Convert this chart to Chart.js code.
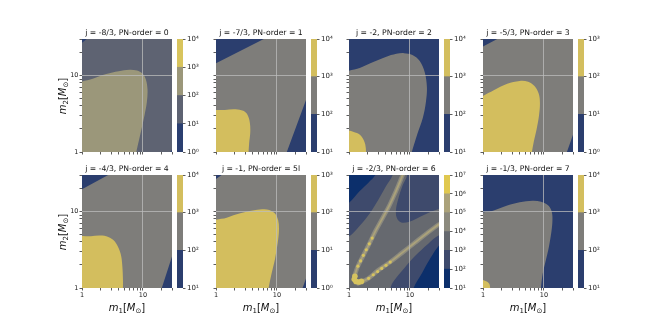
<!DOCTYPE html>
<html>
<head>
<meta charset="utf-8">
<script src="https://cdn.jsdelivr.net/npm/chart.js@4.4.1/dist/chart.umd.min.js"></script>
<style>
  body { margin: 0; background: #fff; }
  #fig { position: relative; width: 660px; height: 330px; overflow: hidden; font-family: "DejaVu Sans", sans-serif; color: #111; }
  #fig canvas { position: absolute; }
  .ttl { position: absolute; font-size: 7.7px; white-space: nowrap; transform: translate(-50%, -50%); }
  .lab { position: absolute; font-size: 10px; white-space: nowrap; transform: translate(-50%, -50%); }
  .lab.rot { transform: translate(-50%, -50%) rotate(-90deg); }
  .lab i { font-style: oblique; }
  .lab sub { font-size: 70%; vertical-align: -0.3em; line-height: 0; }
</style>
</head>
<body>
<div id="fig"></div>
<script>
// panel titles
const titles = ['j = -8/3, PN-order = 0', 'j = -7/3, PN-order = 1', 'j = -2, PN-order = 2', 'j = -5/3, PN-order = 3',
                'j = -4/3, PN-order = 4', 'j = -1, PN-order = 5l', 'j = -2/3, PN-order = 6', 'j = -1/3, PN-order = 7'];

// colorbar range (powers of ten)
const cbLow = [0, 1, 1, 0, 1, 0, 1, 1];
const cbHigh = [4, 4, 4, 3, 4, 3, 7, 4];

// mass axis ticks
const massTicks = [1, 2, 3, 4, 5, 6, 7, 8, 9, 10, 20, 30];
const massLabels = [1, 10];

// contour regions, [m1, m2] boundary points
const whole = [[0.5, 0.5], [0.5, 60], [60, 60], [60, 0.5]];

const p1Tan = [[0.7, 0.7], [0.85, 7.4], [1.5, 9.1], [2.5, 10.5], [4, 11.4], [6, 11.9], [8, 11.6], [9.8, 10.6], [11.2, 8.8], [11.9, 6.5], [11.6, 4.5], [10.6, 3], [9.2, 1.8], [8.1, 1.15], [7.6, 0.9]];
const p1BlueTL = [[0.8, 23.5], [0.8, 40], [1.94, 40]];
const p1BlueBR = [[27, 0.95], [35, 0.95], [35, 1.3]];

const p2BlueTL = [[0.8, 13.2], [0.8, 40], [12.4, 40]];
const p2BlueBR = [[13.1, 0.8], [40, 0.8], [40, 8.9]];
const p2Yellow = [[0.7, 0.7], [0.85, 3.3], [1.4, 3.55], [2.1, 3.62], [2.8, 3.45], [3.3, 3.05], [3.6, 2.4], [3.65, 1.8], [3.5, 1.3], [3.4, 0.9]];

const p3Gray = [[0.7, 0.7], [0.85, 10.3], [1.5, 12.5], [2.5, 15], [4, 17.5], [6, 19.2], [8, 19.6], [11, 18.6], [14.5, 15.5], [17.5, 11], [19, 7], [18.3, 4.5], [16.3, 2.8], [13.2, 1.7], [10.3, 0.9]];
const p3Yellow = [[0.7, 0.7], [0.85, 1.85], [1.35, 1.77], [1.65, 1.55], [1.85, 1.25], [1.92, 0.9]];

const p4Yellow = [[0.7, 0.7], [0.85, 4.6], [1.5, 6.4], [2.5, 7.8], [4, 8.5], [5.5, 8.3], [7, 7.3], [8.2, 5.8], [8.6, 4.4], [8.3, 3], [7.6, 2], [6.8, 1.35], [6.2, 0.9]];
const p4BlueTL = [[0.8, 21.8], [0.8, 40], [3.4, 40]];
const p4BlueBR = [[21.6, 0.8], [40, 0.8], [40, 3.2]];

const p5BlueTL = [[0.8, 17.7], [0.8, 40], [5.2, 40]];
const p5BlueBR = [[18.6, 0.8], [40, 0.8], [40, 5.2]];
const p5Yellow = [[0.7, 0.7], [0.85, 4.45], [1.4, 4.75], [2, 4.85], [2.7, 4.65], [3.4, 4.1], [4, 3.3], [4.4, 2.6], [4.6, 1.9], [4.7, 1.3], [4.7, 0.9]];

const p6BlueTL = [[0.8, 23.5], [0.8, 40], [2.07, 40]];
const p6BlueBR = [[23.8, 0.8], [40, 0.8], [40, 2.5]];
const p6Yellow = [[0.7, 0.7], [0.85, 7], [1.5, 8.3], [2.5, 9.5], [4, 10.3], [5.7, 10.7], [7.5, 10.5], [9.3, 9.4], [10.5, 7.6], [10.8, 5.7], [10.3, 3.9], [9.3, 2.4], [8.1, 1.5], [7.1, 0.9]];

const p7CornerTL = [[0.7, 40], [0.7, 11.5], [1, 13], [1.5, 18.5], [2.1, 24], [2.7, 30], [3, 40]];
const p7CornerBR = [[40, 0.7], [11, 0.7], [11.5, 1], [16, 1.6], [22, 2.5], [30, 3.6], [40, 4.3]];
const p7Envelope = [[0.6, 0.6], [0.7, 4.4], [1, 4.7], [1.5, 6.5], [2.2, 9.5], [3, 14], [4, 21], [5.2, 30], [5.8, 45], [60, 60], [60, 5.6], [30, 4.9], [20, 3.8], [12, 2.6], [8, 1.8], [5.5, 1.25], [4.8, 1], [4.6, 0.6]];
const p7Island = [[9.5, 60], [9, 30], [7.6, 22], [6.5, 15], [5.9, 10.5], [6.1, 8.2], [7.2, 7.2], [9.5, 7.3], [13, 8.1], [18, 9.2], [25, 10.3], [30, 10.8], [60, 13], [60, 60]];
const p7UpperArm = [[1.25, 1.5], [1.4, 1.93], [1.72, 2.67], [2.15, 3.78], [2.7, 5.5], [3.5, 8], [4.6, 12], [6, 19], [7.6, 30], [8.5, 37]];
const p7LowerArm = [[1.4, 1.15], [2.09, 1.34], [3, 1.7], [4.8, 2.2], [7.5, 2.9], [12, 3.9], [19, 5.2], [30, 6.8], [38, 7.6]];
const p7Dots = [[1.4, 1.93], [1.55, 2.26], [1.72, 2.67], [1.92, 3.16], [2.15, 3.78], [2.4, 4.5],
                [2.1, 1.34], [2.5, 1.49], [2.95, 1.64], [3.45, 1.8], [4.05, 1.98], [4.75, 2.18]];
const p7Blob = [[1.22, 1.3], [1.3, 1.22], [1.45, 1.2], [1.6, 1.22], [1.25, 1.42]];

const p8Gray = [[0.7, 0.7], [0.85, 8.7], [1.5, 10.3], [2.5, 12], [4, 13.2], [6.5, 13.8], [9, 13.4], [11.8, 12], [13.4, 10], [13.8, 7.8], [13.3, 5.5], [12.1, 3.5], [10.6, 2.2], [9.5, 1.5], [8.8, 0.9]];
const p8Yellow = [[0.7, 0.7], [0.85, 1.27], [1.15, 1.22], [1.28, 1.12], [1.32, 0.9]];

// [colour band, region] drawn bottom to top
const panelLayers = [
    [[1, whole], [2, p1Tan], [0, p1BlueTL], [0, p1BlueBR]],
    [[1, whole], [0, p2BlueTL], [0, p2BlueBR], [2, p2Yellow]],
    [[0, whole], [1, p3Gray], [2, p3Yellow]],
    [[1, whole], [2, p4Yellow], [0, p4BlueTL], [0, p4BlueBR]],
    [[1, whole], [0, p5BlueTL], [0, p5BlueBR], [2, p5Yellow]],
    [[1, whole], [0, p6BlueTL], [0, p6BlueBR], [2, p6Yellow]],
    [[1, whole], [0, p7CornerTL], [0, p7CornerBR], [2, p7Envelope], [1, p7Island]],
    [[0, whole], [1, p8Gray], [2, p8Yellow]]
];

// colours and layout
const pal4 = ['#2b3f70', '#5e6372', '#9b977a', '#d8c45d'];
const pal3 = ['#2b3e6e', '#7e7d7a', '#d3be5e'];
const pal6 = ['#0c2f6b', '#3e4a6c', '#66696f', '#8c8a7e', '#aba27a', '#e0c84f'];
const panelPal = [pal4, pal3, pal3, pal3, pal3, pal3, pal6, pal3];
const colL = [82, 216, 349, 483], rowT = [39, 175];
const plotW = 90, plotH = 113;
const SUP = '⁰¹²³⁴⁵⁶⁷⁸⁹';
const tickFont = {family: 'DejaVu Sans', size: 6.5};

const fig = document.getElementById('fig');

function addCanvas(left, top, w, h) {
    const c = document.createElement('canvas');
    c.width = w; c.height = h;
    c.style.left = left + 'px'; c.style.top = top + 'px';
    c.style.width = w + 'px'; c.style.height = h + 'px';
    fig.appendChild(c);
    return c;
}

function addText(cls, html, x, y) {
    const d = document.createElement('div');
    d.className = cls;
    d.innerHTML = html;
    d.style.left = x + 'px'; d.style.top = y + 'px';
    fig.appendChild(d);
}

const toXY = pts => pts.map(([x, y]) => ({x: x, y: y}));

function massAxis(pos, showLabels, size) {
    return {
        type: 'logarithmic', position: pos, min: 1, max: 30, z: 1,
        afterBuildTicks: s => { s.ticks = massTicks.map(v => ({value: v})); },
        afterFit: s => { if (pos === 'left') s.width = size; else s.height = size; },
        border: {display: false},
        grid: {
            z: 1,
            color: ctx => (ctx.tick && ctx.tick.value === 10) ? 'rgba(190,190,190,0.75)' : 'rgba(0,0,0,0)',
            lineWidth: 1, drawTicks: true, tickLength: 2.5, tickColor: '#333', tickWidth: 0.8
        },
        ticks: {
            autoSkip: false, maxRotation: 0, padding: 1, font: tickFont, color: '#222',
            callback: v => (showLabels && massLabels.includes(v)) ? String(v) : ''
        }
    };
}

for (let i = 0; i < 8; i++) {
    const col = i % 4, row = Math.floor(i / 4);
    const L = colL[col], T = rowT[row];
    const pal = panelPal[i];

    const datasets = panelLayers[i].map(([band, pts], k) => ({
        data: toXY(pts),
        backgroundColor: pal[band],
        borderColor: 'rgba(0,0,0,0)',
        borderWidth: 0,
        fill: 'shape',
        pointRadius: 0,
        tension: pts.length > 4 ? 0.35 : 0.001,
        clip: 0,
        order: 100 - k
    }));

    if (i === 6) {
        [p7UpperArm, p7LowerArm].forEach(arm => {
            datasets.push({data: toXY(arm), borderColor: pal[3], borderWidth: 4.5, fill: false,
                pointRadius: 0, tension: 0.35, clip: 0, order: 20, borderCapStyle: 'round'});
            datasets.push({data: toXY(arm), borderColor: pal[4], borderWidth: 1.8, fill: false,
                pointRadius: 0, tension: 0.35, clip: 0, order: 19, borderCapStyle: 'round'});
        });
        datasets.push({data: toXY(p7Dots), showLine: false, pointRadius: 1.6, pointBorderWidth: 0,
            pointBackgroundColor: '#d6c35f', clip: 0, order: 10});
        datasets.push({data: toXY(p7Blob), showLine: false, pointRadius: 2.8, pointBorderWidth: 0,
            pointBackgroundColor: '#d6c35f', clip: 0, order: 9});
    }

    const cv = addCanvas(L - 45, T - 8, plotW + 53, plotH + 28);
    new Chart(cv, {
        type: 'line',
        data: {datasets: datasets},
        options: {
            responsive: false, animation: false, devicePixelRatio: 1,
            layout: {padding: {top: 8, right: 8, left: 0, bottom: 0}, autoPadding: false},
            elements: {line: {capBezierPoints: false}},
            scales: {
                x: massAxis('bottom', row === 1, 20),
                y: massAxis('left', col === 0, 45)
            },
            plugins: {legend: {display: false}, tooltip: {enabled: false}}
        }
    });

    // colorbar
    const lo = cbLow[i], hi = cbHigh[i];
    const exps = [];
    for (let e = lo; e <= hi; e++) exps.push(e);
    const cb = addCanvas(L + plotW + 5, T - 8, 6 + 34, plotH + 16);
    new Chart(cb, {
        type: 'bar',
        data: {
            labels: [''],
            datasets: pal.map((c, k) => ({
                data: [[Math.pow(10, lo + k), Math.pow(10, lo + k + 1)]],
                backgroundColor: c, borderWidth: 0,
                barPercentage: 1, categoryPercentage: 1, grouped: false
            }))
        },
        options: {
            responsive: false, animation: false, devicePixelRatio: 1,
            layout: {padding: {top: 8, bottom: 8, left: 0, right: 0}, autoPadding: false},
            scales: {
                x: {display: false},
                y: {
                    type: 'logarithmic', position: 'right',
                    min: Math.pow(10, lo), max: Math.pow(10, hi),
                    afterBuildTicks: s => { s.ticks = exps.map(e => ({value: Math.pow(10, e)})); },
                    afterFit: s => { s.width = 34; },
                    border: {display: false},
                    grid: {drawOnChartArea: false, drawTicks: true, tickLength: 2.5, tickColor: '#333', tickWidth: 0.8},
                    ticks: {
                        autoSkip: false, padding: 1.5, font: {family: 'DejaVu Sans', size: 7}, color: '#222',
                        callback: v => '10' + SUP[Math.round(Math.log10(v))]
                    }
                }
            },
            plugins: {legend: {display: false}, tooltip: {enabled: false}}
        }
    });

    addText('ttl', titles[i], L + plotW / 2, T - 7);
    if (row === 1) addText('lab', '<i>m</i><sub>1</sub>[<i>M</i><sub>⊙</sub>]', L + plotW / 2, 307);
    if (col === 0) addText('lab rot', '<i>m</i><sub>2</sub>[<i>M</i><sub>⊙</sub>]', 62, T + plotH / 2);
}
</script>
</body>
</html>
